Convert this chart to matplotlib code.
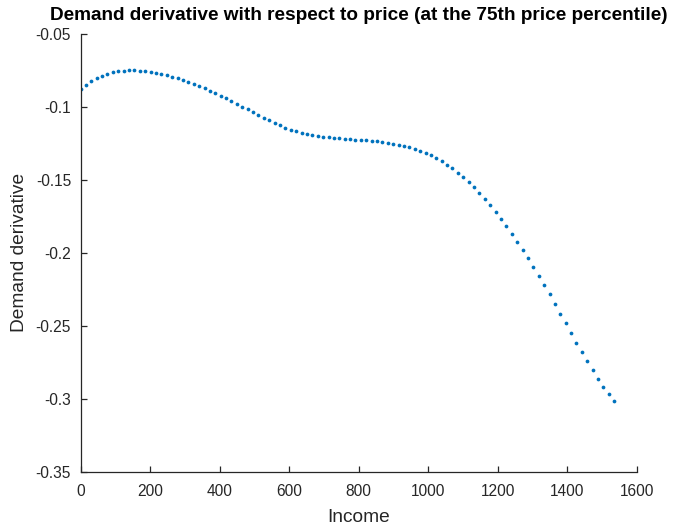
import numpy as np
import matplotlib
matplotlib.use("Agg")
import matplotlib.pyplot as plt

plt.rcParams['font.family'] = ['Liberation Sans', 'DejaVu Sans']

# Data
income_start = 0.0
income_step = 15.5
derivative = [
    -0.08780, -0.08494, -0.08254, -0.08050, -0.07882, -0.07750, -0.07651, -0.07580, -0.07535, -0.07514,
    -0.07516, -0.07538, -0.07578, -0.07634, -0.07702, -0.07779, -0.07866, -0.07963, -0.08069, -0.08185,
    -0.08310, -0.08445, -0.08590, -0.08744, -0.08906, -0.09075, -0.09251, -0.09433, -0.09619, -0.09810,
    -0.10004, -0.10198, -0.10392, -0.10585, -0.10773, -0.10956, -0.11134, -0.11298, -0.11447, -0.11582,
    -0.11700, -0.11801, -0.11886, -0.11958, -0.12019, -0.12069, -0.12111, -0.12148, -0.12180, -0.12208,
    -0.12236, -0.12264, -0.12292, -0.12323, -0.12357, -0.12395, -0.12439, -0.12491, -0.12551, -0.12621,
    -0.12702, -0.12794, -0.12899, -0.13023, -0.13166, -0.13328, -0.13517, -0.13732, -0.13974, -0.14240,
    -0.14530, -0.14844, -0.15182, -0.15544, -0.15930, -0.16340, -0.16771, -0.17224, -0.17699, -0.18195,
    -0.18713, -0.19252, -0.19811, -0.20389, -0.20986, -0.21600, -0.22228, -0.22870, -0.23523, -0.24181,
    -0.24844, -0.25509, -0.26167, -0.26818, -0.27462, -0.28076, -0.28658, -0.29209, -0.29722, -0.30193,
]
income = income_start + income_step * np.arange(len(derivative))

x_ticks = [0, 200, 400, 600, 800, 1000, 1200, 1400, 1600]
x_tick_labels = ['0', '200', '400', '600', '800', '1000', '1200', '1400', '1600']
y_ticks = [-0.35, -0.3, -0.25, -0.2, -0.15, -0.1, -0.05]
y_tick_labels = ['-0.35', '-0.3', '-0.25', '-0.2', '-0.15', '-0.1', '-0.05']

title = 'Demand derivative with respect to price (at the 75th price percentile)'
xlabel = 'Income'
ylabel = 'Demand derivative'

axis_color = '#262626'
dot_color = '#0072BD'

fig = plt.figure(figsize=(6.75, 5.27), dpi=100)
ax = fig.add_axes([0.1193, 0.1053, 0.8244, 0.8311])

ax.plot(income, derivative, linestyle='none', marker='o', markersize=2.7,
        markeredgewidth=0, color=dot_color)

ax.set_xlim(0, 1600)
ax.set_ylim(-0.35, -0.05)
ax.set_xticks(x_ticks)
ax.set_xticklabels(x_tick_labels)
ax.set_yticks(y_ticks)
ax.set_yticklabels(y_tick_labels)

for side in ['top', 'right']:
    ax.spines[side].set_visible(False)
for side in ['left', 'bottom']:
    ax.spines[side].set_color(axis_color)
    ax.spines[side].set_linewidth(0.9)

ax.tick_params(direction='in', length=4, width=0.9, color=axis_color,
               labelcolor=axis_color, labelsize=11.2)
ax.tick_params(axis='x', pad=9)
ax.tick_params(axis='y', pad=6.8)

ax.set_xlabel(xlabel, fontsize=13.8, color=axis_color, labelpad=7.5)
ax.set_ylabel(ylabel, fontsize=13.8, color=axis_color, labelpad=5.8)
ax.set_title(title, fontsize=13.7, fontweight='bold', color='black', pad=10)

fig.savefig('out.png', dpi=100)
